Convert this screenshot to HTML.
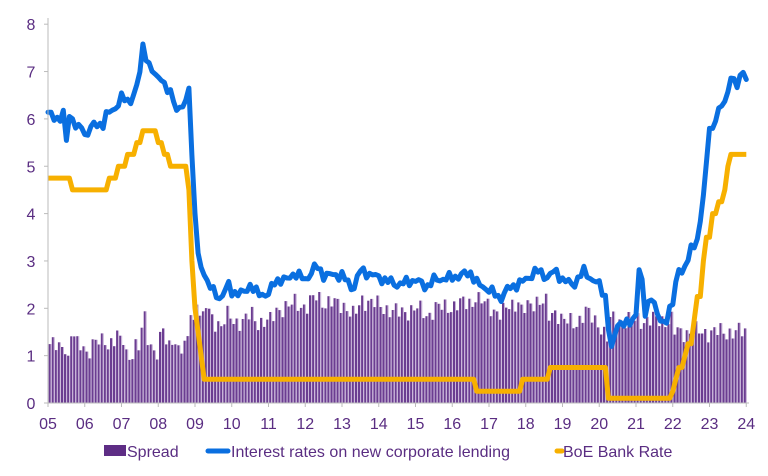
<!DOCTYPE html>
<html><head><meta charset="utf-8"><style>
body{margin:0;background:#fff;}
svg text{font-family:"Liberation Sans",sans-serif;fill:#5a2d82;}
</style></head><body>
<svg id="c" width="768" height="471" xmlns="http://www.w3.org/2000/svg"></svg>
<script>
const X=y=>48+(y-2005)*36.75, Y=v=>403-v*47.35;
const L=[[2005,6.1],[2005.3,6.0],[2005.45,6.1],[2005.5,5.55],[2005.55,6.1],[2005.7,6.0],[2005.8,5.7],[2005.9,5.9],[2006,5.65],[2006.2,5.85],[2006.5,5.9],[2006.6,6.1],[2006.8,6.2],[2007,6.45],[2007.2,6.35],[2007.4,6.6],[2007.5,7.0],[2007.6,7.65],[2007.7,7.2],[2007.9,6.9],[2008.1,6.9],[2008.2,6.6],[2008.4,6.5],[2008.5,6.2],[2008.7,6.25],[2008.85,6.7],[2008.95,4.5],[2009.1,3.0],[2009.3,2.6],[2009.5,2.35],[2009.7,2.2],[2009.9,2.5],[2010,2.35],[2010.3,2.3],[2010.5,2.5],[2010.7,2.3],[2011,2.3],[2011.2,2.6],[2011.5,2.6],[2011.7,2.75],[2012,2.6],[2012.3,2.9],[2012.5,2.7],[2013,2.7],[2013.3,2.4],[2013.5,2.8],[2014,2.65],[2014.5,2.5],[2015,2.6],[2015.3,2.45],[2015.5,2.6],[2016,2.65],[2016.5,2.75],[2016.7,2.5],[2017,2.4],[2017.3,2.2],[2017.5,2.4],[2018,2.6],[2018.3,2.8],[2018.6,2.65],[2018.8,2.8],[2019,2.6],[2019.3,2.5],[2019.6,2.8],[2019.8,2.6],[2020,2.5],[2020.2,2.2],[2020.3,1.0],[2020.5,1.7],[2020.8,1.65],[2021,1.9],[2021.1,3.0],[2021.25,1.9],[2021.4,2.3],[2021.6,1.8],[2021.8,1.7],[2022,2.1],[2022.15,2.9],[2022.3,2.7],[2022.5,3.3],[2022.7,3.5],[2022.85,4.5],[2023,5.8],[2023.1,5.8],[2023.3,6.3],[2023.5,6.5],[2023.6,6.95],[2023.7,6.7],[2023.9,7.0],[2024,6.8]];
const B=[[2005,4.75],[2005.6,4.5],[2006.6,4.75],[2006.9,5.0],[2007.1,5.25],[2007.4,5.5],[2007.55,5.75],[2007.95,5.5],[2008.1,5.25],[2008.3,5.0],[2008.8,4.5],[2008.88,3.0],[2008.95,2.0],[2009.02,1.5],[2009.1,1.0],[2009.2,0.5],[2016.6,0.25],[2017.85,0.5],[2018.6,0.75],[2020.2,0.1],[2021.95,0.25],[2022.05,0.5],[2022.15,0.75],[2022.3,1.0],[2022.4,1.25],[2022.55,1.75],[2022.65,2.25],[2022.8,3.0],[2022.9,3.5],[2023.05,4.0],[2023.2,4.25],[2023.35,4.5],[2023.45,5.0],[2023.55,5.25],[2024,5.25]];
function li(t){for(let i=1;i<L.length;i++)if(t<=L[i][0]){const a=L[i-1],b=L[i];return a[1]+(b[1]-a[1])*(t-a[0])/(b[0]-a[0]);}return L[L.length-1][1];}
function bi(t){let v=B[0][1];for(const p of B)if(t>=p[0]-1e-9)v=p[1];return v;}
const nz=m=>Math.sin(m*2.7)*0.07+Math.sin(m*1.3+1)*0.05;
let s='';
for(let m=0;m<228;m++){const t=2005+m/12+0.02;const n=Math.sin(m*2.3)*0.15+Math.sin(m*0.9)*0.08;let sp;
if(t>2022)sp=1.5+n;else if(t>2020.2)sp=1.75+n;else sp=li(t)-bi(t)-0.1+n;
sp=Math.max(0.75,sp);
const x=X(t);s+=`<rect x="${x.toFixed(1)}" y="${Y(sp).toFixed(1)}" width="2" height="${(sp*47.35).toFixed(1)}" fill="#6b3d91"/><rect x="${(x+2).toFixed(1)}" y="${Y(sp).toFixed(1)}" width="1" height="${(sp*47.35).toFixed(1)}" fill="#c9b5d9"/>`;}
let pb='';for(let m=0;m<=228;m++){const t=2005+m/12;pb+=(m?' L':'M')+X(t).toFixed(1)+','+Y(bi(t+0.01)).toFixed(1);}
s+=`<path d="${pb}" fill="none" stroke="#f7b000" stroke-width="5" stroke-linejoin="round"/>`;
let pl='';for(let m=0;m<=228;m++){const t=2005+m/12;let v=li(t);if(!(t>2008.7&&t<2009.3)&&!(t>2022.6&&t<2023.1))v+=nz(m);pl+=(m?' L':'M')+X(t).toFixed(1)+','+Y(v).toFixed(1);}
s+=`<path d="${pl}" fill="none" stroke="#0a6fe0" stroke-width="5" stroke-linejoin="round" stroke-linecap="round"/>`;
s+=`<line x1="48" y1="18" x2="48" y2="403" stroke="#bbb"/><line x1="48" y1="403" x2="749" y2="403" stroke="#bbb"/>`;
for(let v=0;v<=8;v++){s+=`<line x1="44" x2="48" y1="${Y(v)}" y2="${Y(v)}" stroke="#bbb"/><text x="31" y="${Y(v)+6}" font-size="16" text-anchor="middle">${v}</text>`;}
for(let y=2005;y<=2024;y++){const x=X(y);s+=`<line x1="${x}" x2="${x}" y1="403" y2="407" stroke="#bbb"/><text x="${x}" y="429" font-size="16" text-anchor="middle">${String(y%100).padStart(2,'0')}</text>`;}
s+=`<rect x="104" y="445" width="22" height="11" fill="#5e2d85"/><text x="127" y="457" font-size="16">Spread</text>`;
s+=`<line x1="208" x2="228" y1="451" y2="451" stroke="#0a6fe0" stroke-width="5" stroke-linecap="round"/><text x="231" y="457" font-size="16" textLength="279">Interest rates on new corporate lending</text>`;
s+=`<line x1="557" x2="562" y1="451" y2="451" stroke="#f7b000" stroke-width="5" stroke-linecap="round"/><text x="563" y="457" font-size="16">BoE Bank Rate</text>`;
document.getElementById('c').innerHTML=s;
</script>
</body></html>
